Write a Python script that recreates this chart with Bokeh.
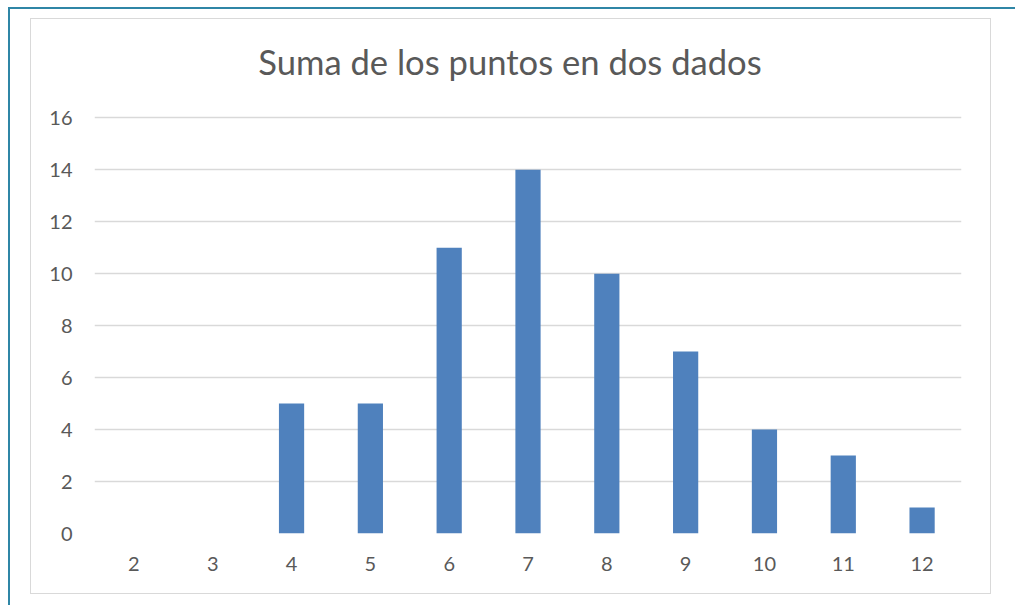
from bokeh.plotting import figure
from bokeh.layouts import column
from bokeh.models import FactorRange, Range1d, FixedTicker, ColumnDataSource
from bokeh.core.properties import value
from bokeh.embed import file_html
from bokeh.resources import INLINE

# data
sums = ["2", "3", "4", "5", "6", "7", "8", "9", "10", "11", "12"]
counts = [0, 0, 5, 5, 11, 14, 10, 7, 4, 3, 1]
y_ticks = [0, 2, 4, 6, 8, 10, 12, 14, 16]
title_text = "Suma de los puntos en dos dados"

FONT = "Lato"
TXT = "#595959"
GRID = "#d9d9d9"

# layout: the plot frame reaches up to the canvas top; the title sits in
# the headroom above the last grid line (16)
Y_TOP = 19.78
TITLE_Y = 18.17

source = ColumnDataSource(dict(x=sums, y=counts))

p = figure(
    x_range=FactorRange(*sums, range_padding=0),
    y_range=Range1d(0, Y_TOP),
    width=961, height=576,
    output_backend="svg", toolbar_location=None,
    min_border_left=63, min_border_right=31,
    min_border_top=0, min_border_bottom=62,
    styles={"border": "1px solid #d9d9d9", "box-sizing": "border-box"},
)
p.vbar(x="x", top="y", width=0.32, source=source,
       fill_color="#4f81bd", line_color=None)

p.text(x=[len(sums) / 2], y=[TITLE_Y], text=[title_text],
       x_offset=-18,
       text_font=value(FONT), text_font_size="34.6px",
       text_color=TXT, text_align="center", text_baseline="alphabetic")

p.outline_line_color = None
p.background_fill_color = "white"
p.border_fill_color = "white"

p.xgrid.grid_line_color = None
p.ygrid.grid_line_color = GRID
p.ygrid.grid_line_width = 1.5
p.ygrid.ticker = FixedTicker(ticks=y_ticks)

p.yaxis.ticker = FixedTicker(ticks=y_ticks)
for ax in (p.xaxis[0], p.yaxis[0]):
    ax.axis_line_color = None
    ax.major_tick_line_color = None
    ax.minor_tick_line_color = None
    ax.major_tick_in = 0
    ax.major_tick_out = 0
    ax.major_label_text_font = FONT
    ax.major_label_text_font_size = "20px"
    ax.major_label_text_color = TXT
p.yaxis.major_label_standoff = 22
p.xaxis.major_label_standoff = 23

layout = column(
    p,
    styles={
        "border-top": "2px solid #2f86a6",
        "border-left": "2px solid #2f86a6",
        "margin-left": "8px",
        "margin-top": "7px",
        "padding-left": "20px",
        "padding-top": "9px",
        "padding-bottom": "20px",
        "padding-right": "30px",
    },
)

open("out.html", "w").write(file_html(layout, INLINE))
